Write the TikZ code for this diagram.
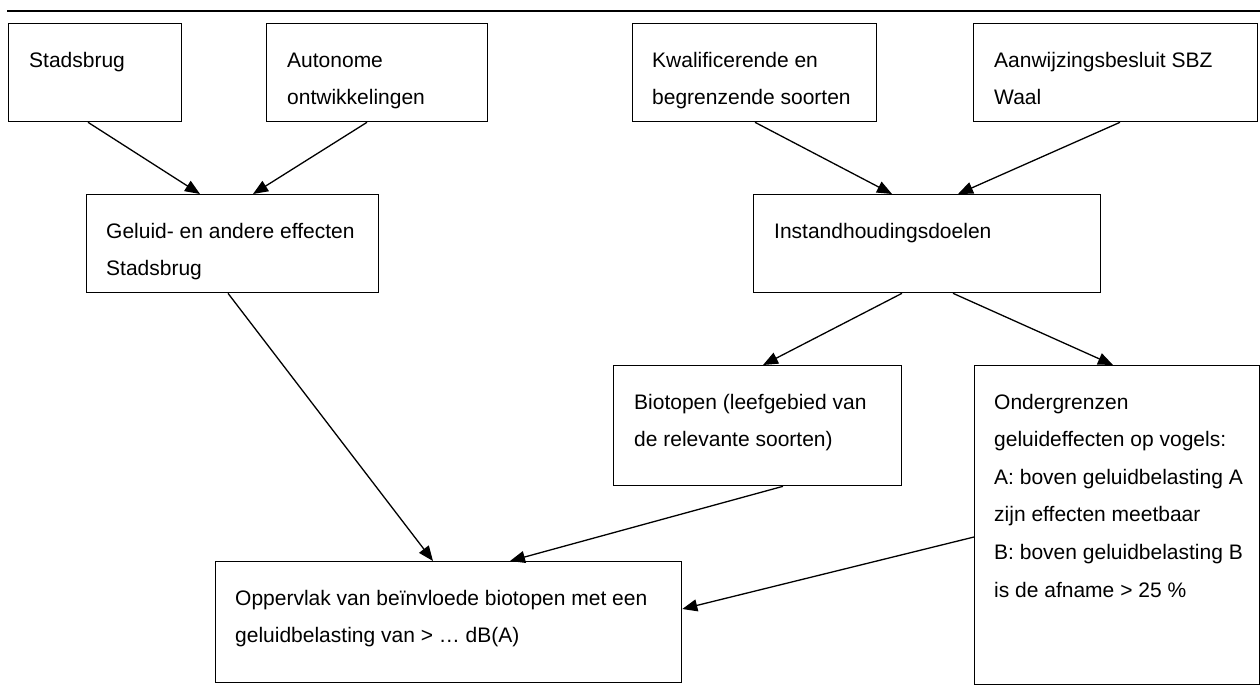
\documentclass[tikz,border=0pt]{standalone}
\usepackage{fontspec}
\setmainfont{Liberation Sans}
\usetikzlibrary{arrows.meta,calc}
\begin{document}
\begin{tikzpicture}[x=1pt,y=-1pt,
  box/.style={draw, line width=1.3pt, rectangle, inner sep=0pt, anchor=north west},
  txt/.style={anchor=base west, inner sep=0pt, font=\fontsize{21}{37.6}\selectfont},
  conn/.style={line width=1.3pt, -{Triangle[length=15pt,width=12pt]}},
  rule/.style={line width=2pt}]
\useasboundingbox (0,0) rectangle (1260,686);
\coordinate (ruleL) at (7,11);
\coordinate (ruleR) at (1260,11);
\draw[rule] (ruleL) -- (ruleR);

% boxes
\node[box, minimum width=173pt, minimum height=98pt] (stad) at (8,23) {};
\node[box, minimum width=221pt, minimum height=98pt] (auto) at (266,23) {};
\node[box, minimum width=244pt, minimum height=98pt] (kwal) at (632,23) {};
\node[box, minimum width=284pt, minimum height=98pt] (aanw) at (973,23) {};
\node[box, minimum width=292pt, minimum height=98pt] (gel) at (86,194) {};
\node[box, minimum width=347pt, minimum height=98pt] (inst) at (753,194) {};
\node[box, minimum width=288pt, minimum height=120pt] (bio) at (613,365) {};
\node[box, minimum width=285pt, minimum height=319pt] (onder) at (974,365) {};
\node[box, minimum width=466pt, minimum height=121pt] (opp) at (215,561) {};

% texts
\node[txt] (tstad) at ($(stad.north west)+(21,44)$) {\parbox[t]{300pt}{Stadsbrug}};
\node[txt] (tauto) at ($(auto.north west)+(21,44)$) {\parbox[t]{300pt}{Autonome\\ontwikkelingen}};
\node[txt] (tkwal) at ($(kwal.north west)+(20,44)$) {\parbox[t]{300pt}{Kwalificerende en\\begrenzende soorten}};
\node[txt] (taanw) at ($(aanw.north west)+(21,44)$) {\parbox[t]{300pt}{Aanwijzingsbesluit SBZ\\Waal}};
\node[txt] (tgel) at ($(gel.north west)+(20,44)$) {\parbox[t]{300pt}{Geluid- en andere effecten\\Stadsbrug}};
\node[txt] (tinst) at ($(inst.north west)+(21,44)$) {\parbox[t]{300pt}{Instandhoudingsdoelen}};
\node[txt] (tbio) at ($(bio.north west)+(21,44)$) {\parbox[t]{300pt}{Biotopen (leefgebied van\\de relevante soorten)}};
\node[txt] (tonder) at ($(onder.north west)+(20,44)$) {\parbox[t]{300pt}{Ondergrenzen\\geluideffecten op vogels:\\A: boven geluidbelasting A\\zijn effecten meetbaar\\B: boven geluidbelasting B\\is de afname > 25 \%}};
\node[txt] (topp) at ($(opp.north west)+(20,44)$) {\parbox[t]{500pt}{Oppervlak van beïnvloede biotopen met een\\geluidbelasting van > … dB(A)}};

% connectors
\draw[conn] ($(stad.south west)+(80,0)$) -- ($(gel.north west)+(114,0)$);
\draw[conn] ($(auto.south west)+(101,0)$) -- ($(gel.north west)+(167,0)$);
\draw[conn] ($(kwal.south west)+(123,0)$) -- ($(inst.north west)+(139,0)$);
\draw[conn] ($(aanw.south west)+(147,0)$) -- ($(inst.north west)+(205,0)$);
\draw[conn] ($(inst.south west)+(149,0)$) -- ($(bio.north west)+(150,0)$);
\draw[conn] ($(inst.south west)+(200,0)$) -- ($(onder.north west)+(139,0)$);
\draw[conn] ($(gel.south west)+(142,0)$) -- ($(opp.north west)+(218,0)$);
\draw[conn] ($(bio.south west)+(170,0)$) -- ($(opp.north west)+(295,0)$);
\draw[conn] ($(onder.north west)+(0,172)$) -- ($(opp.north east)+(0,48)$);
\end{tikzpicture}
\end{document}
